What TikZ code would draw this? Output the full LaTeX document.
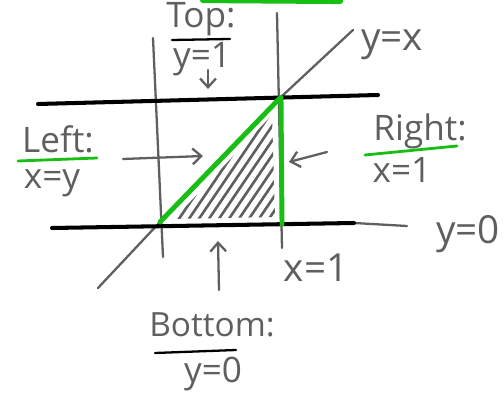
\documentclass[tikz,border=0pt]{standalone}
\usepackage{fontspec}
\setmainfont{Open Sans}
\usetikzlibrary{arrows.meta,calc,positioning}
\definecolor{sketchgray}{RGB}{95,95,95}
\definecolor{sketchgreen}{RGB}{25,190,20}

\begin{document}
\begin{tikzpicture}[
      x=0.02cm, y=-0.02cm,
      guide/.style={draw=sketchgray, line width=1.3pt, line cap=round},
      bound/.style={draw=black, line width=2.3pt, line cap=round},
      edge/.style={draw=sketchgreen, line width=2.8pt, line cap=round, line join=round},
      hint/.style={guide, -{Straight Barb[length=5pt, width=9pt]}},
      lbl/.style={text=sketchgray, font=\fontsize{20}{22}\selectfont, inner sep=1pt}
    ]
      \useasboundingbox (0,0) rectangle (504,398);

      % Corners of the region
      \coordinate (origin) at (160,222);
      \coordinate (corner) at (281,97);
      \coordinate (foot) at (282,224);

      % Green mark cut off at the top
      \coordinate (markL) at (203,0);
      \coordinate (markR) at (340,1);
      \draw[edge, line width=3.5pt] (markL) -- (markR);

      % Grid lines x=0 and x=1
      \coordinate (vl1) at (153,38);
      \coordinate (vl2) at (163,257);
      \coordinate (vr1) at (277,13);
      \coordinate (vr2) at (282,248);
      \draw[guide] (vl1) -- (vl2);
      \draw[guide] (vr1) -- (vr2);

      % Diagonal y=x
      \coordinate (diag1) at (98,288);
      \coordinate (diag2) at (353,30);
      \draw[guide] (diag1) -- (origin) -- (corner) -- (diag2);

      % Lines y=1 and y=0
      \coordinate (top1) at (38,104);
      \coordinate (top2) at (378,95);
      \coordinate (bot1) at (52,228);
      \coordinate (bot2) at (354,223);
      \coordinate (bot3) at (407,226);
      \draw[guide] (bot2) -- (bot3);
      \draw[bound] (top1) -- (top2);
      \draw[bound] (bot1) -- (bot2);

      % Hatching
      \begin{scope}
        \clip (174,219) -- (272,115) -- (275,217) -- cycle;
        \foreach \h in {140,150,...,290}
          \draw[guide, line width=1.5pt] (\h,232) -- ++(85,-125);
      \end{scope}

      % Region edges
      \draw[edge] (origin) -- (corner) -- (foot);

      % Labels
      \node[lbl, font=\fontsize{22}{24}\selectfont] (yx) at (392,45) {y=x};
      \node[lbl, font=\fontsize{22}{24}\selectfont] (yzero) at (468,234) {y=0};
      \node[lbl, font=\fontsize{22}{24}\selectfont] (xone) at (316,268) {x=1};

      % Top
      \node[lbl] (topname) at (201,19) {Top:};
      \node[lbl] (topeq) at (202,59) {y=1};
      \coordinate (topul1) at (172,40);
      \coordinate (topul2) at (230,39);
      \draw[guide, draw=black] (topul1) -- (topul2);
      \coordinate (toptail) at (208,70);
      \coordinate (tophead) at (208,89);
      \draw[hint] (toptail) -- (tophead);

      % Left
      \node[lbl] (leftname) at (58,139) {Left:};
      \node[lbl] (lefteq) at (52,183) {x=y};
      \coordinate (leftul1) at (18,161);
      \coordinate (leftul2) at (97,158);
      \draw[edge, line width=1.6pt] (leftul1) -- (leftul2);
      \coordinate (lefttail) at (123,159);
      \coordinate (lefthead) at (203,156);
      \draw[hint] (lefttail) -- (lefthead);

      % Right
      \node[lbl] (rightname) at (420,131) {Right:};
      \node[lbl] (righteq) at (402,170) {x=1};
      \coordinate (rightul1) at (365,155);
      \coordinate (rightul2) at (457,146);
      \draw[edge, line width=1.6pt] (rightul1) -- (rightul2);
      \coordinate (righttail) at (327,152);
      \coordinate (righthead) at (289,162);
      \draw[hint] (righttail) -- (righthead);

      % Bottom
      \node[lbl, font=\fontsize{19}{21}\selectfont] (botname) at (212,325) {Bottom:};
      \node[lbl] (boteq) at (213,374) {y=0};
      \coordinate (botul1) at (155,353);
      \coordinate (botul2) at (236,350);
      \draw[guide, draw=black] (botul1) -- (botul2);
      \coordinate (bottail) at (219,290);
      \coordinate (bothead) at (218,241);
      \draw[hint] (bottail) -- (bothead);
    \end{tikzpicture}
\end{document}
